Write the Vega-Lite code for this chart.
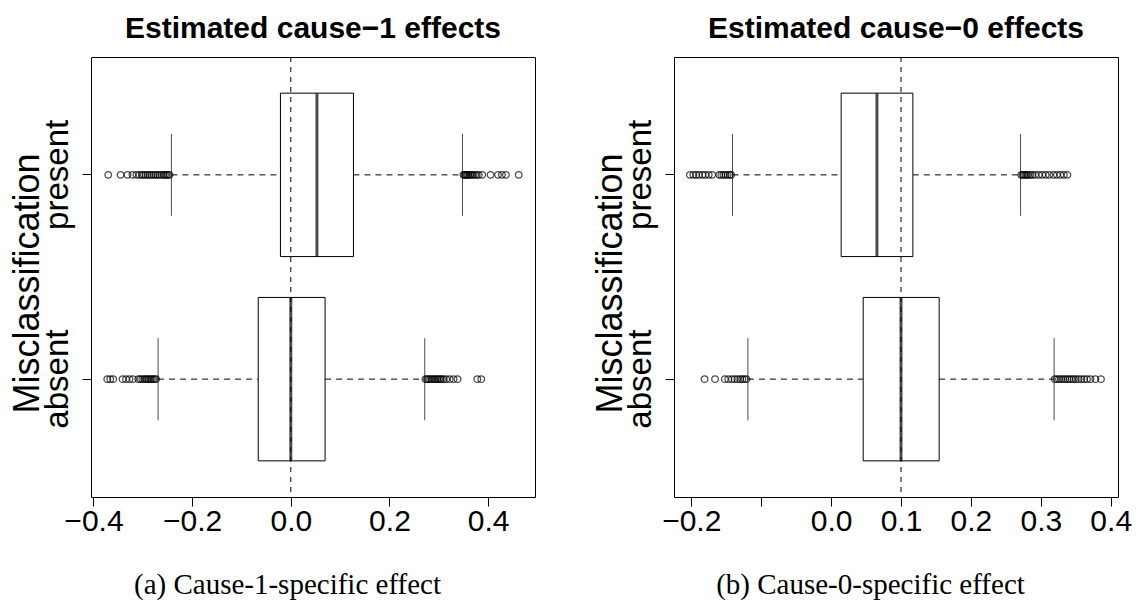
{
  "$schema": "https://vega.github.io/schema/vega-lite/v6.json",
  "background": "white",
  "padding": {"left": 8, "top": 13, "right": 5, "bottom": 5},
  "config": {
    "font": "Liberation Sans",
    "view": {"stroke": "black", "strokeWidth": 1},
    "axis": {"grid": false, "domain": false, "tickColor": "black", "labelColor": "black", "titleColor": "black", "labelFont": "Liberation Sans", "titleFont": "Liberation Sans", "labelFontSize": 30, "titleFontSize": 30, "titleFontWeight": "normal", "tickSize": 9},
    "title": {"font": "Liberation Sans", "fontSize": 30, "fontWeight": "bold", "color": "black", "frame": "group", "anchor": "middle", "offset": 13},
    "concat": {"spacing": 55}
  },
  "datasets": {
    "box1": [
      {"group": "present", "lo": -0.242, "q1": -0.021, "med": 0.053, "q3": 0.127, "hi": 0.348},
      {"group": "absent", "lo": -0.269, "q1": -0.066, "med": 0.0, "q3": 0.0695, "hi": 0.2715}
    ],
    "out1": [
      {"group": "present", "value": -0.370}, {"group": "present", "value": -0.345}, {"group": "present", "value": -0.331}, {"group": "present", "value": -0.321}, {"group": "present", "value": -0.313}, {"group": "present", "value": -0.307}, {"group": "present", "value": -0.302}, {"group": "present", "value": -0.298}, {"group": "present", "value": -0.294}, {"group": "present", "value": -0.290}, {"group": "present", "value": -0.286}, {"group": "present", "value": -0.282}, {"group": "present", "value": -0.278}, {"group": "present", "value": -0.274}, {"group": "present", "value": -0.270}, {"group": "present", "value": -0.266}, {"group": "present", "value": -0.262}, {"group": "present", "value": -0.258}, {"group": "present", "value": -0.255}, {"group": "present", "value": -0.252}, {"group": "present", "value": -0.249}, {"group": "present", "value": -0.246},
      {"group": "present", "value": 0.350}, {"group": "present", "value": 0.352}, {"group": "present", "value": 0.354}, {"group": "present", "value": 0.356}, {"group": "present", "value": 0.358}, {"group": "present", "value": 0.360}, {"group": "present", "value": 0.363}, {"group": "present", "value": 0.366}, {"group": "present", "value": 0.369}, {"group": "present", "value": 0.373}, {"group": "present", "value": 0.377}, {"group": "present", "value": 0.381}, {"group": "present", "value": 0.388}, {"group": "present", "value": 0.405}, {"group": "present", "value": 0.420}, {"group": "present", "value": 0.428}, {"group": "present", "value": 0.436}, {"group": "present", "value": 0.462},
      {"group": "absent", "value": -0.372}, {"group": "absent", "value": -0.366}, {"group": "absent", "value": -0.360}, {"group": "absent", "value": -0.341}, {"group": "absent", "value": -0.334}, {"group": "absent", "value": -0.327}, {"group": "absent", "value": -0.320}, {"group": "absent", "value": -0.309}, {"group": "absent", "value": -0.305}, {"group": "absent", "value": -0.301}, {"group": "absent", "value": -0.297}, {"group": "absent", "value": -0.294}, {"group": "absent", "value": -0.291}, {"group": "absent", "value": -0.288}, {"group": "absent", "value": -0.285}, {"group": "absent", "value": -0.282}, {"group": "absent", "value": -0.279}, {"group": "absent", "value": -0.276}, {"group": "absent", "value": -0.273},
      {"group": "absent", "value": 0.273}, {"group": "absent", "value": 0.276}, {"group": "absent", "value": 0.279}, {"group": "absent", "value": 0.282}, {"group": "absent", "value": 0.285}, {"group": "absent", "value": 0.288}, {"group": "absent", "value": 0.291}, {"group": "absent", "value": 0.294}, {"group": "absent", "value": 0.297}, {"group": "absent", "value": 0.300}, {"group": "absent", "value": 0.303}, {"group": "absent", "value": 0.306}, {"group": "absent", "value": 0.310}, {"group": "absent", "value": 0.315}, {"group": "absent", "value": 0.322}, {"group": "absent", "value": 0.330}, {"group": "absent", "value": 0.338}, {"group": "absent", "value": 0.378}, {"group": "absent", "value": 0.386}
    ],
    "ref1": [{"ref": 0.0}],
    "box0": [
      {"group": "present", "lo": -0.141, "q1": 0.0144, "med": 0.0656, "q3": 0.117, "hi": 0.271},
      {"group": "absent", "lo": -0.119, "q1": 0.0459, "med": 0.1, "q3": 0.1546, "hi": 0.319}
    ],
    "out0": [
      {"group": "present", "value": -0.202}, {"group": "present", "value": -0.197}, {"group": "present", "value": -0.193}, {"group": "present", "value": -0.189}, {"group": "present", "value": -0.184}, {"group": "present", "value": -0.180}, {"group": "present", "value": -0.175}, {"group": "present", "value": -0.170}, {"group": "present", "value": -0.160}, {"group": "present", "value": -0.157}, {"group": "present", "value": -0.154}, {"group": "present", "value": -0.151}, {"group": "present", "value": -0.148}, {"group": "present", "value": -0.145}, {"group": "present", "value": -0.143},
      {"group": "present", "value": 0.272}, {"group": "present", "value": 0.274}, {"group": "present", "value": 0.276}, {"group": "present", "value": 0.278}, {"group": "present", "value": 0.280}, {"group": "present", "value": 0.282}, {"group": "present", "value": 0.285}, {"group": "present", "value": 0.288}, {"group": "present", "value": 0.292}, {"group": "present", "value": 0.297}, {"group": "present", "value": 0.302}, {"group": "present", "value": 0.307}, {"group": "present", "value": 0.312}, {"group": "present", "value": 0.318}, {"group": "present", "value": 0.323}, {"group": "present", "value": 0.328}, {"group": "present", "value": 0.333}, {"group": "present", "value": 0.338},
      {"group": "absent", "value": -0.181}, {"group": "absent", "value": -0.166}, {"group": "absent", "value": -0.152}, {"group": "absent", "value": -0.147}, {"group": "absent", "value": -0.142}, {"group": "absent", "value": -0.138}, {"group": "absent", "value": -0.134}, {"group": "absent", "value": -0.130}, {"group": "absent", "value": -0.127}, {"group": "absent", "value": -0.124}, {"group": "absent", "value": -0.121},
      {"group": "absent", "value": 0.320}, {"group": "absent", "value": 0.323}, {"group": "absent", "value": 0.326}, {"group": "absent", "value": 0.329}, {"group": "absent", "value": 0.332}, {"group": "absent", "value": 0.335}, {"group": "absent", "value": 0.338}, {"group": "absent", "value": 0.341}, {"group": "absent", "value": 0.344}, {"group": "absent", "value": 0.347}, {"group": "absent", "value": 0.350}, {"group": "absent", "value": 0.354}, {"group": "absent", "value": 0.358}, {"group": "absent", "value": 0.362}, {"group": "absent", "value": 0.366}, {"group": "absent", "value": 0.371}, {"group": "absent", "value": 0.378}, {"group": "absent", "value": 0.386}
    ],
    "ref0": [{"ref": 0.1}]
  },
  "hconcat": [
    {
      "width": 444,
      "height": 440,
      "title": {"text": "Estimated cause−1 effects"},
      "layer": [
        {
          "data": {"name": "box1"},
          "mark": {"type": "rule", "color": "black", "strokeWidth": 1, "strokeDash": [6, 5]},
          "encoding": {
            "x": {"field": "lo", "type": "quantitative", "scale": {"domain": [-0.405, 0.495], "nice": false, "zero": false},
              "axis": {"values": [-0.4, -0.2, 0, 0.2, 0.4], "format": ".1f", "labelPadding": 0, "labelFlush": false, "title": "(a) Cause-1-specific effect", "titleFont": "Liberation Serif", "titleFontSize": 29, "titlePadding": 34, "titleX": 196, "titleAlign": "center"}},
            "x2": {"field": "q1"},
            "y": {"field": "group", "type": "nominal", "scale": {"domain": ["present", "absent"], "paddingInner": 0.2, "paddingOuter": 0.177},
              "axis": {"title": "Misclassification", "labelFontSize": 33, "titleFontSize": 36, "labelAngle": -90, "labelAlign": "center", "labelBaseline": "alphabetic", "labelPadding": 15, "titleX": -53, "titleY": 226, "titleAngle": -90, "titleAlign": "center", "titleBaseline": "alphabetic"}}
          }
        },
        {
          "data": {"name": "box1"},
          "mark": {"type": "rule", "color": "black", "strokeWidth": 1, "strokeDash": [6, 5]},
          "encoding": {"x": {"field": "q3", "type": "quantitative"}, "x2": {"field": "hi"}, "y": {"field": "group", "type": "nominal"}}
        },
        {
          "data": {"name": "box1"},
          "mark": {"type": "bar", "fill": "white", "stroke": "black", "strokeWidth": 1},
          "encoding": {"x": {"field": "q1", "type": "quantitative"}, "x2": {"field": "q3"}, "y": {"field": "group", "type": "nominal"}}
        },
        {
          "data": {"name": "box1"},
          "mark": {"type": "tick", "color": "black", "size": 163, "thickness": 3, "orient": "vertical"},
          "encoding": {"x": {"field": "med", "type": "quantitative"}, "y": {"field": "group", "type": "nominal"}}
        },
        {
          "data": {"name": "box1"},
          "mark": {"type": "tick", "color": "black", "size": 82, "thickness": 1, "orient": "vertical"},
          "encoding": {"x": {"field": "lo", "type": "quantitative"}, "y": {"field": "group", "type": "nominal"}}
        },
        {
          "data": {"name": "box1"},
          "mark": {"type": "tick", "color": "black", "size": 82, "thickness": 1, "orient": "vertical"},
          "encoding": {"x": {"field": "hi", "type": "quantitative"}, "y": {"field": "group", "type": "nominal"}}
        },
        {
          "data": {"name": "out1"},
          "mark": {"type": "point", "shape": "circle", "filled": false, "color": "black", "size": 44, "strokeWidth": 1.3},
          "encoding": {"x": {"field": "value", "type": "quantitative"}, "y": {"field": "group", "type": "nominal"}}
        },
        {
          "data": {"name": "ref1"},
          "mark": {"type": "rule", "color": "black", "strokeWidth": 1, "strokeDash": [5, 5]},
          "encoding": {"x": {"field": "ref", "type": "quantitative"}}
        }
      ]
    },
    {
      "width": 444,
      "height": 440,
      "title": {"text": "Estimated cause−0 effects"},
      "layer": [
        {
          "data": {"name": "box0"},
          "mark": {"type": "rule", "color": "black", "strokeWidth": 1, "strokeDash": [6, 5]},
          "encoding": {
            "x": {"field": "lo", "type": "quantitative", "scale": {"domain": [-0.2247, 0.4104], "nice": false, "zero": false},
              "axis": {"values": [-0.2, -0.1, 0, 0.1, 0.2, 0.3, 0.4], "labelExpr": "datum.value == -0.1 ? '' : format(datum.value, '.1f')", "labelPadding": 0, "labelFlush": false, "title": "(b) Cause-0-specific effect", "titleFont": "Liberation Serif", "titleFontSize": 29, "titlePadding": 34, "titleX": 196, "titleAlign": "center"}},
            "x2": {"field": "q1"},
            "y": {"field": "group", "type": "nominal", "scale": {"domain": ["present", "absent"], "paddingInner": 0.2, "paddingOuter": 0.177},
              "axis": {"title": "Misclassification", "labelFontSize": 33, "titleFontSize": 36, "labelAngle": -90, "labelAlign": "center", "labelBaseline": "alphabetic", "labelPadding": 15, "titleX": -53, "titleY": 226, "titleAngle": -90, "titleAlign": "center", "titleBaseline": "alphabetic"}}
          }
        },
        {
          "data": {"name": "box0"},
          "mark": {"type": "rule", "color": "black", "strokeWidth": 1, "strokeDash": [6, 5]},
          "encoding": {"x": {"field": "q3", "type": "quantitative"}, "x2": {"field": "hi"}, "y": {"field": "group", "type": "nominal"}}
        },
        {
          "data": {"name": "box0"},
          "mark": {"type": "bar", "fill": "white", "stroke": "black", "strokeWidth": 1},
          "encoding": {"x": {"field": "q1", "type": "quantitative"}, "x2": {"field": "q3"}, "y": {"field": "group", "type": "nominal"}}
        },
        {
          "data": {"name": "box0"},
          "mark": {"type": "tick", "color": "black", "size": 163, "thickness": 3, "orient": "vertical"},
          "encoding": {"x": {"field": "med", "type": "quantitative"}, "y": {"field": "group", "type": "nominal"}}
        },
        {
          "data": {"name": "box0"},
          "mark": {"type": "tick", "color": "black", "size": 82, "thickness": 1, "orient": "vertical"},
          "encoding": {"x": {"field": "lo", "type": "quantitative"}, "y": {"field": "group", "type": "nominal"}}
        },
        {
          "data": {"name": "box0"},
          "mark": {"type": "tick", "color": "black", "size": 82, "thickness": 1, "orient": "vertical"},
          "encoding": {"x": {"field": "hi", "type": "quantitative"}, "y": {"field": "group", "type": "nominal"}}
        },
        {
          "data": {"name": "out0"},
          "mark": {"type": "point", "shape": "circle", "filled": false, "color": "black", "size": 44, "strokeWidth": 1.3},
          "encoding": {"x": {"field": "value", "type": "quantitative"}, "y": {"field": "group", "type": "nominal"}}
        },
        {
          "data": {"name": "ref0"},
          "mark": {"type": "rule", "color": "black", "strokeWidth": 1, "strokeDash": [5, 5]},
          "encoding": {"x": {"field": "ref", "type": "quantitative"}}
        }
      ]
    }
  ]
}
